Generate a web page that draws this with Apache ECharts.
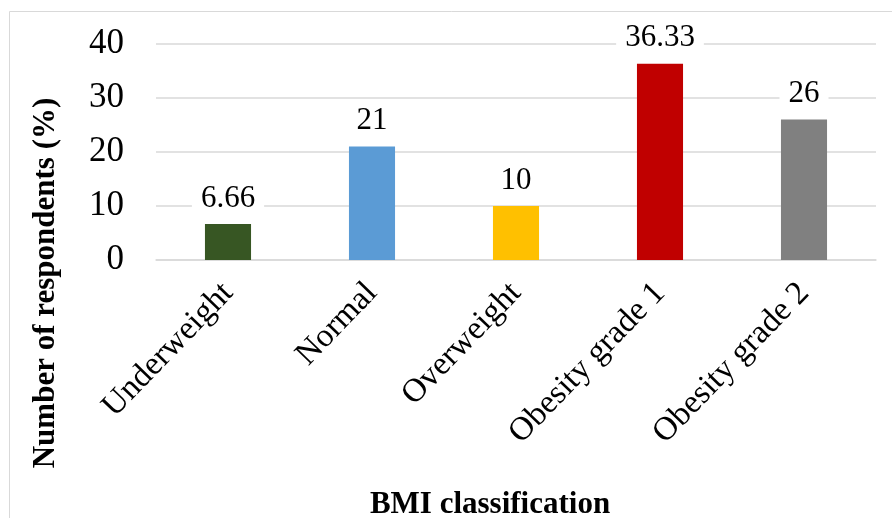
<!DOCTYPE html>
<html>
<head>
<meta charset="utf-8">
<script src="https://cdn.jsdelivr.net/npm/echarts@6/dist/echarts.min.js"></script>
<style>
  html, body { margin: 0; padding: 0; background: #fff; }
  #chart { width: 892px; height: 518px; }
</style>
</head>
<body>
<div id="chart"></div>
<script>
const categories = ['Underweight', 'Normal', 'Overweight', 'Obesity grade 1', 'Obesity grade 2'];
const percentages = [6.66, 21, 10, 36.33, 26];
const barColors = ['#375623', '#5b9bd5', '#ffc000', '#c00000', '#808080'];
const yTicks = [0, 10, 20, 30, 40];

const serif = '"Liberation Serif", "Times New Roman", serif';
const chart = echarts.init(document.getElementById('chart'));

chart.setOption({
  animation: false,
  grid: { left: 156, right: 16, top: 44, bottom: 258 },
  xAxis: {
    type: 'category',
    data: categories,
    axisLine: { lineStyle: { color: '#d9d9d9', width: 1.5 } },
    axisTick: { show: false },
    axisLabel: {
      rotate: 46,
      margin: 28,
      interval: 0,
      color: '#000',
      fontFamily: serif,
      fontSize: 33
    }
  },
  yAxis: {
    type: 'value',
    min: yTicks[0],
    max: yTicks[yTicks.length - 1],
    interval: 10,
    axisLine: { show: false },
    axisTick: { show: false },
    splitLine: { lineStyle: { color: '#d9d9d9', width: 1.5 } },
    axisLabel: {
      margin: 32,
      color: '#000',
      fontFamily: serif,
      fontSize: 35
    }
  },
  series: [{
    type: 'bar',
    barWidth: '32%',
    data: percentages.map((v, i) => ({ value: v, itemStyle: { color: barColors[i] } })),
    label: {
      show: true,
      position: 'top',
      distance: 10,
      color: '#000',
      fontFamily: serif,
      fontSize: 31,
      backgroundColor: '#fff',
      padding: [0, 9]
    }
  }],
  graphic: [
    {
      type: 'rect',
      silent: true,
      shape: { x: 9.5, y: 11.5, width: 900, height: 600 },
      style: { fill: 'none', stroke: '#d9d9d9', lineWidth: 1 },
      z: -10
    },
    {
      type: 'text',
      x: 46,
      y: 283,
      rotation: Math.PI / 2,
      style: {
        text: 'Number of respondents (%)',
        font: 'bold 31px ' + serif,
        fill: '#000',
        align: 'center',
        verticalAlign: 'middle'
      }
    },
    {
      type: 'text',
      x: 490,
      y: 505,
      style: {
        text: 'BMI classification',
        font: 'bold 31px ' + serif,
        fill: '#000',
        align: 'center',
        verticalAlign: 'middle'
      }
    }
  ]
});
window.addEventListener('resize', () => chart.resize());
</script>
</body>
</html>
